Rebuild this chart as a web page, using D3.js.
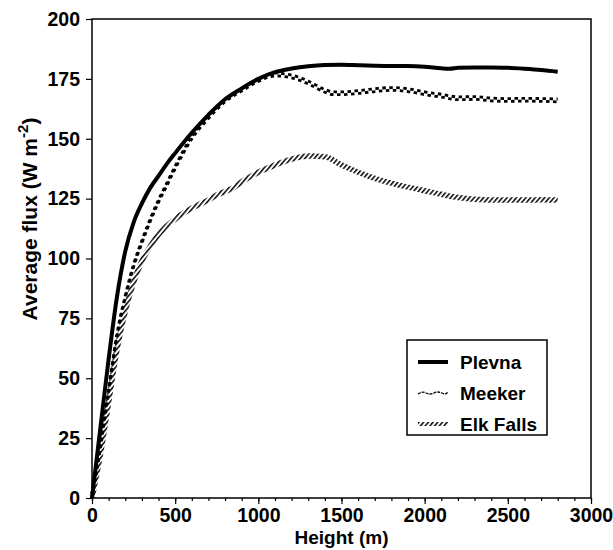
<!DOCTYPE html>
<html>
<head>
<meta charset="utf-8">
<script src="https://cdn.jsdelivr.net/npm/d3@7"></script>
<style>
	body { margin: 0; background: #fff; }
	svg text { font-family: "Liberation Sans", Arial, Helvetica, sans-serif; font-weight: bold; fill: #000; }
</style>
</head>
<body>
<svg id="chart" width="613" height="550"></svg>
<script>
// heights (m) at which the curves were read
var plevnaH = [0, 50, 100, 150, 200, 250, 300, 350, 400, 450, 500, 600, 700, 800, 900, 1000, 1100, 1200, 1300, 1400, 1500, 1600, 1700, 1800, 1900, 2000, 2100, 2150, 2200, 2300, 2400, 2500, 2600, 2700, 2800];
var plevnaV = [0, 29, 58, 84, 103, 115, 123, 129.5, 134.5, 139.5, 144, 152.5, 160, 166.5, 171, 175, 177.8, 179.3, 180.3, 180.8, 180.9, 180.7, 180.5, 180.4, 180.4, 180.1, 179.4, 179.2, 179.6, 179.8, 179.8, 179.6, 179.2, 178.7, 178];

var meekerH = [0, 50, 100, 150, 200, 250, 300, 350, 400, 450, 500, 600, 700, 800, 900, 1000, 1100, 1200, 1300, 1400, 1450, 1500, 1600, 1700, 1800, 1900, 2000, 2100, 2200, 2300, 2400, 2500, 2600, 2700, 2800];
var meekerV = [0, 21, 45, 68, 84, 97, 107, 116, 124, 131, 138, 150.5, 159, 166, 170.5, 174.5, 176.8, 176, 173.5, 170, 169, 169, 169.5, 170.3, 170.8, 170.3, 169, 168, 166.9, 167, 166.4, 166.2, 166.3, 166.2, 166];

var elkH = [0, 50, 100, 150, 200, 250, 300, 350, 400, 500, 600, 700, 750, 800, 850, 900, 1000, 1100, 1200, 1300, 1400, 1500, 1600, 1700, 1800, 1900, 2000, 2100, 2200, 2300, 2400, 2500, 2600, 2700, 2800];
var elkV = [0, 18, 40, 62, 78, 90, 99, 105, 110, 116.5, 121, 124.5, 126.5, 128, 129.5, 132, 136, 139, 141.5, 142.8, 142.5, 139, 136, 133.5, 131.5, 129.8, 128.3, 126.8, 125.5, 124.7, 124.4, 124.4, 124.4, 124.5, 124.4];

var seriesNames = ["Plevna", "Meeker", "Elk Falls"];
var xTicks = [0, 500, 1000, 1500, 2000, 2500, 3000];
var yTicks = [0, 25, 50, 75, 100, 125, 150, 175, 200];

var margin = {top: 19, right: 22, bottom: 52, left: 92};
var svg = d3.select("svg#chart");
var width = +svg.attr("width") - margin.left - margin.right;
var height = +svg.attr("height") - margin.top - margin.bottom;

var x = d3.scaleLinear().domain([0, 3000]).range([0, width]);
var y = d3.scaleLinear().domain([0, 200]).range([height, 0]);

// hatch pattern for the Elk Falls line
var defs = svg.append("defs");
defs.append("pattern")
	.attr("id", "hatch")
	.attr("patternUnits", "userSpaceOnUse")
	.attr("width", 3.6)
	.attr("height", 3.6)
	.attr("patternTransform", "rotate(40)")
	.append("rect")
	.attr("x", 0).attr("y", 0)
	.attr("width", 1.5).attr("height", 3.6)
	.style("fill", "#000");

var g = svg.append("g")
	.attr("transform", "translate(" + margin.left + "," + margin.top + ")");

function pairs(h, v) {
	return h.map(function(d, i) { return [d, v[i]]; });
}

var line = d3.line()
	.x(function(d) { return x(d[0]); })
	.y(function(d) { return y(d[1]); })
	.curve(d3.curveMonotoneX);

// Elk Falls: hatched band
g.append("path")
	.datum(pairs(elkH, elkV))
	.attr("d", line)
	.style("fill", "none")
	.style("stroke", "url(#hatch)")
	.style("stroke-width", 5.5);

// Meeker: checkered band made of two offset dash rows
[-1.4, 1.4].forEach(function(off, i) {
	g.append("path")
		.datum(pairs(meekerH, meekerV))
		.attr("d", line)
		.attr("transform", "translate(0," + off + ")")
		.style("fill", "none")
		.style("stroke", "#000")
		.style("stroke-width", 2.8)
		.style("stroke-dasharray", "3.5,3.5")
		.style("stroke-dashoffset", i * 3.5);
});

// Plevna: solid thick line
g.append("path")
	.datum(pairs(plevnaH, plevnaV))
	.attr("d", line)
	.style("fill", "none")
	.style("stroke", "#000")
	.style("stroke-width", 4);

// frame
g.append("rect")
	.attr("width", width)
	.attr("height", height)
	.style("fill", "none")
	.style("stroke", "#000")
	.style("stroke-width", 1.5);

// axes
var xAxis = d3.axisBottom(x).tickValues(xTicks).tickSize(6).tickPadding(4).tickFormat(d3.format("d"));
var xMinor = d3.axisBottom(x).tickValues(d3.range(0, 3001, 100)).tickSize(3).tickFormat("");
var yAxis = d3.axisLeft(y).tickValues(yTicks).tickSize(6).tickPadding(6);

g.append("g").attr("transform", "translate(0," + height + ")").call(xMinor);
g.append("g").attr("class", "xaxis").attr("transform", "translate(0," + height + ")").call(xAxis);
g.append("g").attr("class", "yaxis").call(yAxis);

g.selectAll(".domain").remove();
g.selectAll(".tick line").style("stroke", "#000").style("stroke-width", 1.2);
g.selectAll(".xaxis text, .yaxis text")
	.style("font-family", "'Liberation Sans', Arial, sans-serif")
	.style("font-weight", "bold")
	.style("font-size", "19.5px")
	.style("fill", "#000");

// axis titles
svg.append("text")
	.attr("x", margin.left + width / 2)
	.attr("y", 544)
	.attr("text-anchor", "middle")
	.style("font-size", "19px")
	.text("Height (m)");

var yt = svg.append("text")
	.attr("transform", "translate(37,219) rotate(-90)")
	.attr("text-anchor", "middle")
	.style("font-size", "21px");
yt.append("tspan").text("Average flux (W m");
yt.append("tspan").attr("dy", -9).style("font-size", "15px").text("-2");
yt.append("tspan").attr("dy", 9).text(")");

// legend
var lg = svg.append("g").attr("transform", "translate(407,340)");
lg.append("rect")
	.attr("width", 140)
	.attr("height", 95)
	.style("fill", "#fff")
	.style("stroke", "#000")
	.style("stroke-width", 1.5);

var rows = lg.selectAll("g.row")
	.data(seriesNames)
	.enter()
	.append("g")
	.attr("class", "row")
	.attr("transform", function(d, i) { return "translate(0," + (22 + i * 31) + ")"; });

rows.append("text")
	.attr("x", 53)
	.attr("y", 7)
	.style("font-size", "19px")
	.text(function(d) { return d; });

rows.each(function(d, i) {
	var r = d3.select(this);
	if (i === 0) {
		r.append("line").attr("x1", 11).attr("x2", 41)
			.style("stroke", "#000").style("stroke-width", 4);
	} else if (i === 1) {
		r.append("path")
			.attr("d", "M11,1 Q15,-2 19,0 T27,0 T35,0 T41,-1")
			.style("fill", "none").style("stroke", "#000").style("stroke-width", 1.3)
			.style("stroke-dasharray", "3,1");
	} else {
		r.append("line").attr("x1", 11).attr("x2", 41)
			.style("stroke", "url(#hatch)").style("stroke-width", 4);
	}
});
</script>
</body>
</html>
